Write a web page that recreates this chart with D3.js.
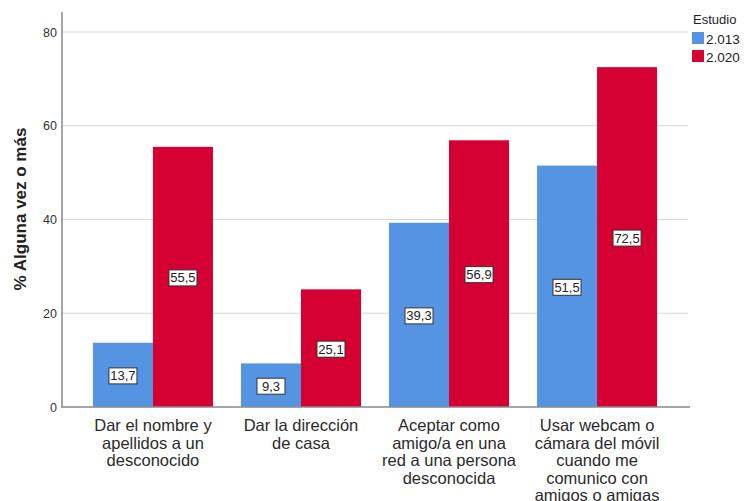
<!DOCTYPE html>
<html><head><meta charset="utf-8">
<script src="https://cdn.jsdelivr.net/npm/d3@7"></script>
<style>body{margin:0;background:#fff}svg{display:block}text{font-family:"Liberation Sans",Arial,sans-serif}</style>
</head><body><svg id="c" width="745" height="501"></svg>
<script>
const categories = [
  ["Dar el nombre y","apellidos a un","desconocido"],
  ["Dar la dirección","de casa"],
  ["Aceptar como","amigo/a en una","red a una persona","desconocida"],
  ["Usar webcam o","cámara del móvil","cuando me","comunico con","amigos o amigas"]
];
const series = ["2.013","2.020"];
const values2013 = [13.7, 9.3, 39.3, 51.5];
const values2020 = [55.5, 25.1, 56.9, 72.5];
const yTicks = [0,20,40,60,80];
const colors = ["#5593e3","#d50032"];

const svg = d3.select("#c");
const catIds = categories.map((c,i)=>i);
const x = d3.scaleBand().domain(catIds).range([62,688]).paddingInner(28/148).paddingOuter(0.209);
const xs = d3.scaleBand().domain(series).range([0,x.bandwidth()]);
const y = d3.scaleLinear().domain([0,80]).range([407,32]);

// gridlines
svg.append("g").selectAll("line").data(yTicks.filter(t=>t>0)).join("line")
  .attr("x1",62).attr("x2",688).attr("y1",d=>y(d)).attr("y2",d=>y(d))
  .attr("stroke","#d6d6d6").attr("stroke-width",1.2);

// y tick labels
svg.append("g").selectAll("text").data(yTicks).join("text")
  .attr("x",57).attr("y",d=>y(d)+4.5).attr("text-anchor","end")
  .attr("font-size",12.5).attr("fill","#333").text(d=>d);

// bars
const data = [values2013, values2020];
series.forEach((s,si)=>{
  const g = svg.append("g");
  g.selectAll("rect").data(data[si]).join("rect")
    .attr("x",(d,i)=>x(i)+xs(s)).attr("width",xs.bandwidth())
    .attr("y",d=>y(d)).attr("height",d=>y(0)-y(d)).attr("fill",colors[si]);
});

// axes lines
svg.append("line").attr("x1",62).attr("x2",62).attr("y1",12).attr("y2",407.5).attr("stroke","#888").attr("stroke-width",1.5);
svg.append("line").attr("x1",61).attr("x2",690).attr("y1",407).attr("y2",407).attr("stroke","#888").attr("stroke-width",1.5);

// value labels
series.forEach((s,si)=>{
  const g = svg.append("g");
  data[si].forEach((d,i)=>{
    const cx = x(i)+xs(s)+xs.bandwidth()/2;
    const cy = (y(d)+y(0))/2;
    const lbl = d.toFixed(1).replace(".",",");
    const w = 28, h = 16;
    g.append("rect").attr("x",cx-w/2).attr("y",cy-h/2+1).attr("width",w).attr("height",h)
      .attr("fill","#fff").attr("stroke","#333").attr("stroke-width",1);
    g.append("text").attr("x",cx).attr("y",cy+5.5).attr("text-anchor","middle")
      .attr("font-size",13).attr("fill","#222").text(lbl);
  });
});

// x labels
const xl = svg.append("g");
categories.forEach((lines,i)=>{
  const t = xl.append("text").attr("text-anchor","middle").attr("font-size",16.5).attr("fill","#2a2a2a");
  lines.forEach((ln,j)=>{
    t.append("tspan").attr("x",x(i)+x.bandwidth()/2).attr("y",431+j*17.5).text(ln);
  });
});

// y title
svg.append("text").attr("transform","translate(26,209) rotate(-90)").attr("text-anchor","middle")
  .attr("font-size",17).attr("font-weight","bold").attr("fill","#222").text("% Alguna vez o más");

// legend
const lg = svg.append("g");
lg.append("text").attr("x",693).attr("y",24).attr("font-size",13).attr("fill","#222").text("Estudio");
series.forEach((s,si)=>{
  lg.append("rect").attr("x",692).attr("y",32+si*18).attr("width",12).attr("height",12).attr("fill",colors[si]);
  lg.append("text").attr("x",706).attr("y",43.5+si*18).attr("font-size",13.5).attr("fill","#222").text(s);
});
</script></body></html>
